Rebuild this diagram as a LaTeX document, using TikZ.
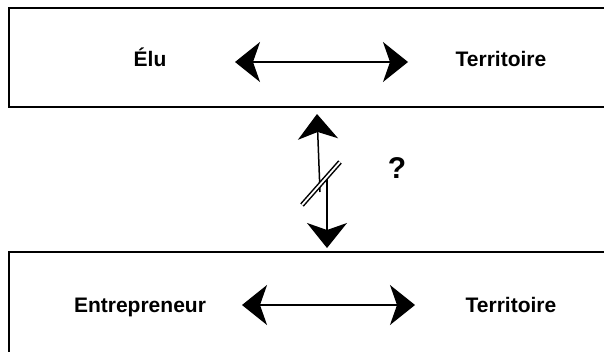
\documentclass[tikz,border=0pt]{standalone}
\usepackage{fontspec}
\setmainfont{Liberation Sans}
\usetikzlibrary{arrows.meta}
\tikzset{bighead/.tip={Stealth[length=25pt,width=40pt,inset=7pt]}}
\begin{document}
\begin{tikzpicture}[x=1pt,y=-1pt,
  boxline/.style={line width=2pt},
  lbl/.style={font=\bfseries\fontsize{21}{25}\selectfont, inner sep=0pt, anchor=base},
  shaft/.style={line width=1.5pt},
  slash/.style={double, double distance=1.8pt, line width=1.5pt}]
\useasboundingbox (0,0) rectangle (604,351);
\fill[white] (0,0) rectangle (604,351);
% frames
\draw[boxline] (610,8) -- (9,8) -- (9,107) -- (610,107);
\draw[boxline] (610,252) -- (9,252) -- (9,360);
% labels
\node[lbl] (elu) at (150,66) {Élu};
\node[lbl] (terr1) at (501,66) {Territoire};
\node[lbl] (entr) at (140,312) {Entrepreneur};
\node[lbl] (terr2) at (511,312) {Territoire};
\node[font=\bfseries\fontsize{30}{34}\selectfont, inner sep=0pt] (q) at (397,168) {?};
% horizontal arrows
\coordinate (t1l) at (235,62);
\coordinate (t1r) at (408,62);
\coordinate (t2l) at (242,305);
\coordinate (t2r) at (415,305);
\draw[shaft, bighead-bighead] (t1l) -- (t1r);
\draw[shaft, bighead-bighead] (t2l) -- (t2r);
% vertical broken arrow
\coordinate (vt) at (317,114);
\coordinate (vtm) at (320,192);
\coordinate (vbm) at (327,178);
\coordinate (vb) at (327,248);
\draw[shaft, bighead-] (vt) -- (vtm);
\draw[shaft, -bighead] (vbm) -- (vb);
\coordinate (s1) at (302,205);
\coordinate (s2) at (340,162);
\draw[slash] (s1) -- (s2);
\end{tikzpicture}
\end{document}
